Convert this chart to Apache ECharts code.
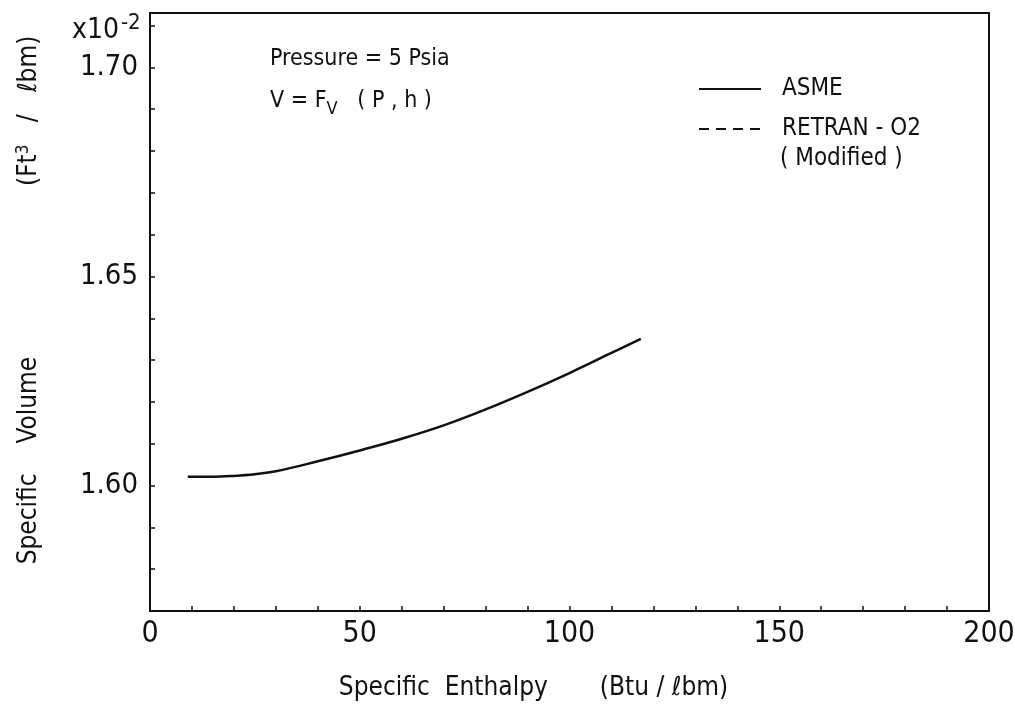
<!DOCTYPE html>
<html>
<head>
<meta charset="utf-8">
<script src="https://cdn.jsdelivr.net/npm/echarts@6/dist/echarts.min.js"></script>
<style>
html,body{margin:0;padding:0;background:#fff;}
#chart{width:1015px;height:705px;}
</style>
</head>
<body>
<div id="chart"></div>
<script>
// Specific enthalpy (Btu/lbm) and specific volume (x10^-2 ft^3/lbm)
const enthalpy = [9, 15, 20, 25, 30, 40, 50, 60, 70, 80, 90, 100, 110, 117];
const asmeVolume = [1.6021, 1.6021, 1.6023, 1.6027, 1.6034, 1.6058, 1.6084, 1.6112, 1.6144, 1.6182, 1.6224, 1.6269, 1.6317, 1.6351];
const retranVolume = []; // no dashed curve is visible in the figure
const xTickLabels = ['0', '50', '100', '150', '200'];
const yTickLabels = ['1.60', '1.65', '1.70'];

const FONT = '"DejaVu Sans Condensed", "DejaVu Sans", sans-serif';
const INK = '#111';

const chart = echarts.init(document.getElementById('chart'), null, {renderer: 'canvas'});
chart.setOption({
  animation: false,
  backgroundColor: '#fff',
  grid: {left: 150, right: 26, top: 13, bottom: 94, show: true, borderColor: INK, borderWidth: 2,
         containLabel: false, outerBoundsMode: 'none'},
  legend: {
    orient: 'vertical', left: 693, top: 72, itemWidth: 62, itemHeight: 22, itemGap: 16,
    itemStyle: {opacity: 0},
    textStyle: {fontFamily: FONT, fontSize: 24, lineHeight: 22, color: INK, padding: [0, 0, 0, 16]},
    data: ['ASME', 'RETRAN - O2']
  },
  xAxis: {
    type: 'value', min: 0, max: 200, interval: 10,
    axisLine: {lineStyle: {color: INK, width: 2}},
    axisTick: {inside: true, length: 5, lineStyle: {color: INK, width: 1.5}},
    splitLine: {show: false},
    axisLabel: {
      fontFamily: FONT, fontSize: 30, color: INK, margin: 8,
      formatter: v => { const s = String(Math.round(v)); return xTickLabels.includes(s) ? s : ''; }
    },
    name: 'Specific  Enthalpy       (Btu / ℓbm)', nameLocation: 'middle', nameGap: 64,
    nameTextStyle: {fontFamily: FONT, fontSize: 26, color: INK, padding: [0, 72, 0, 0]}
  },
  yAxis: {
    type: 'value', min: 1.57, max: 1.713, interval: 0.01,
    axisLine: {lineStyle: {color: INK, width: 2}},
    axisTick: {inside: true, length: 5, lineStyle: {color: INK, width: 1.5}},
    splitLine: {show: false},
    axisLabel: {
      fontFamily: FONT, fontSize: 29, color: INK, margin: 12,
      formatter: v => { const s = v.toFixed(2); return yTickLabels.includes(s) ? s : ''; }
    },
    name: 'Specific    Volume                       (Ft{sup|3}   /   ℓbm)', nameLocation: 'middle', nameGap: 106,
    nameTextStyle: {fontFamily: FONT, fontSize: 26, color: INK, padding: [0, 0, 0, 24],
      rich: {sup: {fontFamily: FONT, fontSize: 17, color: INK, verticalAlign: 'top', padding: [0, 0, 12, 0]}}}
  },
  series: [
    {
      name: 'ASME', type: 'line', symbol: 'none', smooth: 0.4,
      lineStyle: {color: INK, width: 2.5, type: 'solid'}, itemStyle: {color: INK},
      data: enthalpy.map((h, i) => [h, asmeVolume[i]])
    },
    {
      name: 'RETRAN - O2', type: 'line', symbol: 'none',
      lineStyle: {color: INK, width: 2, type: [10, 7]}, itemStyle: {color: INK},
      data: retranVolume
    }
  ],
  graphic: [
    {type: 'text', left: 72, top: 12, style: {
      text: 'x10{sup|-2}', fontFamily: FONT, fontSize: 28, fill: INK,
      rich: {sup: {fontFamily: FONT, fontSize: 22, fill: INK, padding: [0, 0, 16, 2]}}}},
    {type: 'text', left: 270, top: 48, style: {
      text: 'Pressure = 5 Psia', fontFamily: FONT, fontSize: 23, fill: INK}},
    {type: 'text', left: 270, top: 90, style: {
      text: 'V = F{sub|V}   ( P , h )', fontFamily: FONT, fontSize: 23, fill: INK,
      rich: {sub: {fontFamily: FONT, fontSize: 18, fill: INK, padding: [16, 0, 0, 0]}}}},
    {type: 'text', left: 780, top: 147, style: {
      text: '( Modified )', fontFamily: FONT, fontSize: 24, fill: INK}}
  ]
});
</script>
</body>
</html>
